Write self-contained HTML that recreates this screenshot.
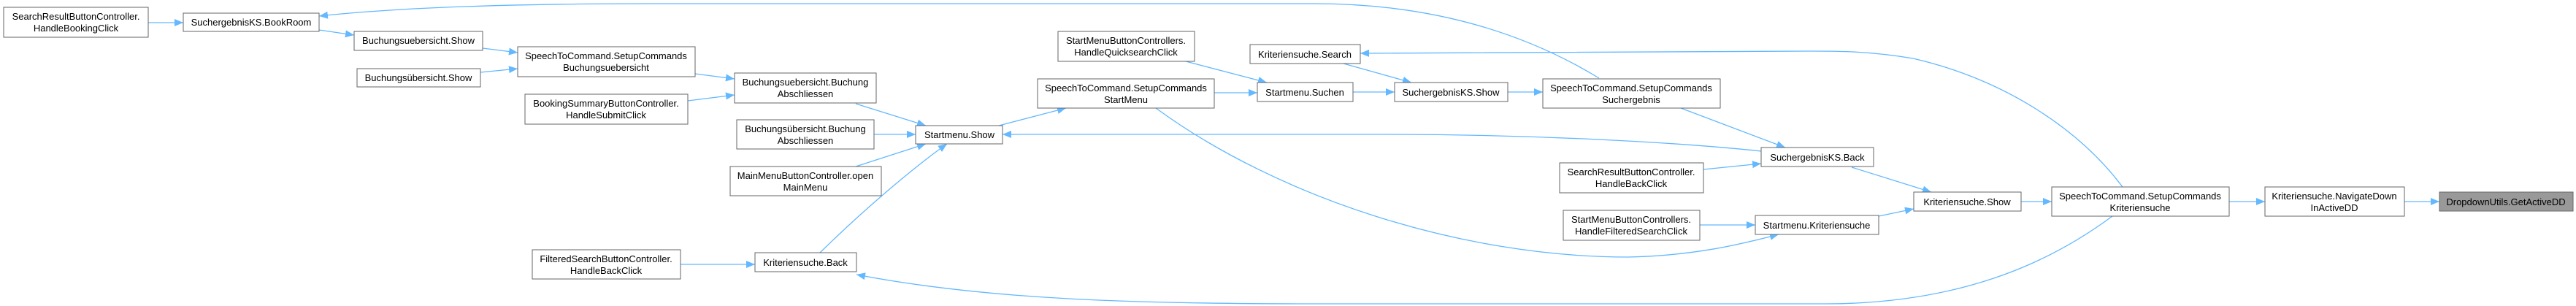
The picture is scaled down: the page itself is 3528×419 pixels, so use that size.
<!DOCTYPE html>
<html><head><meta charset="utf-8"><style>
html,body{margin:0;padding:0;background:#fff;}
svg{display:block;}
text{font-family:"Liberation Sans",sans-serif;font-size:13px;fill:#000;}
</style></head><body>
<svg width="3528" height="419" viewBox="0 0 3528 419" xmlns="http://www.w3.org/2000/svg">
<defs>
<marker id="a" viewBox="0 0 12 10" refX="12" refY="5" markerWidth="12" markerHeight="10" markerUnits="userSpaceOnUse" orient="auto">
<path d="M0,0 L12,5 L0,10 z" fill="#63b8ff"/></marker>
</defs>
<g fill="none" stroke="#63b8ff" stroke-width="1.3" marker-end="url(#a)">
<path d="M203,31 L251,31"/>
<path d="M437,41 L485,48"/>
<path d="M661,66 L709,72"/>
<path d="M658,99 L709,94"/>
<path d="M952,101 L1006,108"/>
<path d="M942,138 L1006,130"/>
<path d="M1172,142 L1268,172"/>
<path d="M1197,184 L1254,184"/>
<path d="M1172,228 L1268,197"/>
<path d="M1123,346 C1180,290 1250,230 1297,197"/>
<path d="M932,362 L1034,362"/>
<path d="M1368,172 L1460,148"/>
<path d="M1663,127 L1722,127"/>
<path d="M1624,84 L1735,113"/>
<path d="M1853,126 L1910,126"/>
<path d="M1840,87 L1933,113"/>
<path d="M2065,126 L2113,126"/>
<path d="M2190,107 C2080,40 1950,5 1800,5 L900,5 C700,5 550,10 437,22"/>
<path d="M2302,148 L2445,202"/>
<path d="M2412,207 C2300,195 2100,184 1900,184 L1373,184"/>
<path d="M2333,232 L2412,224"/>
<path d="M2536,229 L2645,263"/>
<path d="M2328,308 L2404,308"/>
<path d="M1583,148 C1750,270 2000,352 2230,352 C2330,350 2400,330 2436,321"/>
<path d="M2573,296 L2621,286"/>
<path d="M2768,276 L2810,276"/>
<path d="M2907,256 C2850,180 2750,110 2620,80 C2560,70 2520,70 2480,70 L1863,73"/>
<path d="M2893,296 C2820,350 2700,416 2500,416 L1800,416 C1550,416 1350,410 1173,376"/>
<path d="M3053,276 L3102,276"/>
<path d="M3293,276 L3341,276"/>
</g>
<g stroke="#666" stroke-width="1" fill="#fff">
<rect x="5" y="10" width="198" height="41"/>
<rect x="251" y="18" width="186" height="25"/>
<rect x="485" y="43" width="176" height="26"/>
<rect x="489" y="94" width="169" height="25"/>
<rect x="709" y="64" width="243" height="41"/>
<rect x="719" y="129" width="223" height="41"/>
<rect x="729" y="342" width="203" height="40"/>
<rect x="1006" y="100" width="194" height="41"/>
<rect x="1009" y="164" width="188" height="40"/>
<rect x="1000" y="228" width="207" height="40"/>
<rect x="1034" y="346" width="139" height="26"/>
<rect x="1254" y="172" width="119" height="25"/>
<rect x="1421" y="108" width="242" height="40"/>
<rect x="1449" y="43" width="187" height="41"/>
<rect x="1712" y="61" width="151" height="26"/>
<rect x="1722" y="113" width="131" height="26"/>
<rect x="1910" y="113" width="155" height="26"/>
<rect x="2113" y="108" width="243" height="40"/>
<rect x="2412" y="202" width="154" height="26"/>
<rect x="2136" y="223" width="197" height="41"/>
<rect x="2141" y="288" width="187" height="41"/>
<rect x="2404" y="295" width="169" height="26"/>
<rect x="2621" y="263" width="147" height="26"/>
<rect x="2810" y="256" width="243" height="40"/>
<rect x="3102" y="256" width="191" height="40"/>
<rect x="3341" y="263" width="183" height="26" fill="#999"/>
</g>
<g text-anchor="middle">
<text x="104" y="27">SearchResultButtonController.</text><text x="104" y="43">HandleBookingClick</text>
<text x="344" y="35">SuchergebnisKS.BookRoom</text>
<text x="573" y="60">Buchungsuebersicht.Show</text>
<text x="573" y="111">Buchungsübersicht.Show</text>
<text x="830" y="81">SpeechToCommand.SetupCommands</text><text x="830" y="97">Buchungsuebersicht</text>
<text x="830" y="146">BookingSummaryButtonController.</text><text x="830" y="162">HandleSubmitClick</text>
<text x="830" y="359">FilteredSearchButtonController.</text><text x="830" y="375">HandleBackClick</text>
<text x="1103" y="117">Buchungsuebersicht.Buchung</text><text x="1103" y="133">Abschliessen</text>
<text x="1103" y="181">Buchungsübersicht.Buchung</text><text x="1103" y="197">Abschliessen</text>
<text x="1103" y="245">MainMenuButtonController.open</text><text x="1103" y="261">MainMenu</text>
<text x="1103" y="364">Kriteriensuche.Back</text>
<text x="1314" y="189">Startmenu.Show</text>
<text x="1542" y="125">SpeechToCommand.SetupCommands</text><text x="1542" y="141">StartMenu</text>
<text x="1542" y="60">StartMenuButtonControllers.</text><text x="1542" y="76">HandleQuicksearchClick</text>
<text x="1787" y="79">Kriteriensuche.Search</text>
<text x="1787" y="131">Startmenu.Suchen</text>
<text x="1987" y="131">SuchergebnisKS.Show</text>
<text x="2234" y="125">SpeechToCommand.SetupCommands</text><text x="2234" y="141">Suchergebnis</text>
<text x="2489" y="220">SuchergebnisKS.Back</text>
<text x="2234" y="240">SearchResultButtonController.</text><text x="2234" y="256">HandleBackClick</text>
<text x="2234" y="305">StartMenuButtonControllers.</text><text x="2234" y="321">HandleFilteredSearchClick</text>
<text x="2488" y="313">Startmenu.Kriteriensuche</text>
<text x="2694" y="281">Kriteriensuche.Show</text>
<text x="2931" y="273">SpeechToCommand.SetupCommands</text><text x="2931" y="289">Kriteriensuche</text>
<text x="3197" y="273">Kriteriensuche.NavigateDown</text><text x="3197" y="289">InActiveDD</text>
<text x="3432" y="281">DropdownUtils.GetActiveDD</text>
</g>
</svg>
</body></html>
